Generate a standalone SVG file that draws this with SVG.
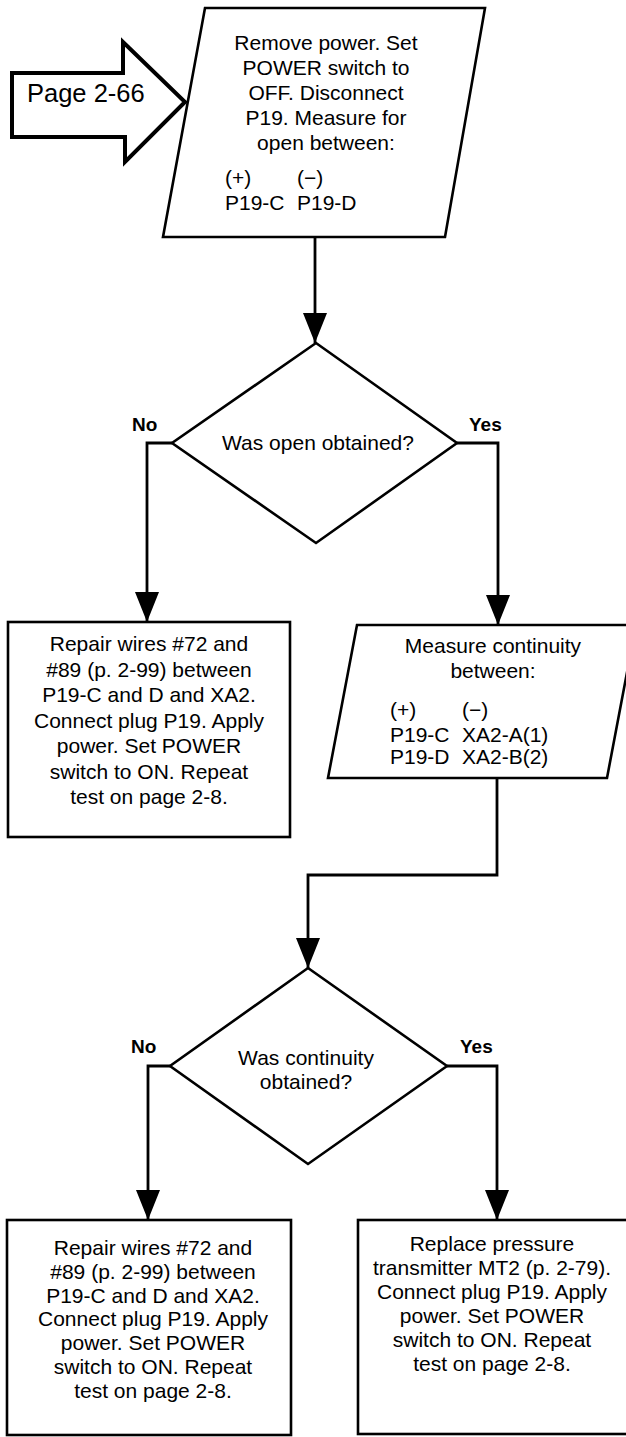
<svg xmlns="http://www.w3.org/2000/svg" width="626" height="1437" viewBox="0 0 626 1437">
<style>
.shape{fill:#fff;stroke:#000;stroke-width:2.6;stroke-linejoin:miter}
.conn{fill:none;stroke:#000;stroke-width:2.8}
.t{font-family:"Liberation Sans",Arial,sans-serif;font-size:21px;fill:#000;text-anchor:middle}
.ts{font-family:"Liberation Sans",Arial,sans-serif;font-size:21px;fill:#000}
.lbl{font-family:"Liberation Sans",Arial,sans-serif;font-size:19px;font-weight:bold;fill:#000}
</style>
<defs>
<marker id="arr" viewBox="0 0 30 24" refX="30" refY="12" markerWidth="30" markerHeight="24" markerUnits="userSpaceOnUse" orient="auto">
<path d="M0,0 L30,12 L0,24 z" fill="#000"/>
</marker>
</defs>
<rect width="626" height="1437" fill="#fff"/>

<g id="connectors">
<path class="conn" d="M315,237 L315,343" marker-end="url(#arr)"/>
<path class="conn" d="M172,443 L147,443 L147,622" marker-end="url(#arr)"/>
<path class="conn" d="M457,443 L498,443 L498,625" marker-end="url(#arr)"/>
<path class="conn" d="M497,778 L497,875 L308,875 L308,968" marker-end="url(#arr)"/>
<path class="conn" d="M170,1066 L148,1066 L148,1220" marker-end="url(#arr)"/>
<path class="conn" d="M447,1066 L497,1066 L497,1220" marker-end="url(#arr)"/>
</g>

<g id="page-ref">
<path d="M12,73 L123,73 L123,42 L185,102 L125,162 L125,137 L12,137 Z" fill="#fff" stroke="#000" stroke-width="4" stroke-linejoin="miter"/>
<text x="27" y="102" font-family="Liberation Sans,Arial,sans-serif" font-size="25.5" fill="#000">Page 2-66</text>
</g>

<g id="start">
<polygon class="shape" points="205,8 485,8 445,237 163,237"/>
<text class="t" x="326" y="50">Remove power. Set</text>
<text class="t" x="326" y="75">POWER switch to</text>
<text class="t" x="326" y="100">OFF. Disconnect</text>
<text class="t" x="326" y="125">P19. Measure for</text>
<text class="t" x="326" y="150">open between:</text>
<text class="ts" x="225" y="185">(+)</text>
<text class="ts" x="297" y="185">(−)</text>
<text class="ts" x="225" y="210">P19-C</text>
<text class="ts" x="297" y="210">P19-D</text>
</g>

<g id="decision1">
<polygon class="shape" points="316,343 457,443 316,543 172,443"/>
<text class="t" x="318" y="450">Was open obtained?</text>
<text class="lbl" x="132" y="431">No</text>
<text class="lbl" x="469" y="431">Yes</text>
</g>

<g id="repair1">
<rect class="shape" x="8" y="622" width="282" height="215"/>
<text class="t" x="149" y="651">Repair wires #72 and</text>
<text class="t" x="149" y="676.5">#89 (p. 2-99) between</text>
<text class="t" x="149" y="702">P19-C and D and XA2.</text>
<text class="t" x="149" y="727.5">Connect plug P19. Apply</text>
<text class="t" x="149" y="753">power. Set POWER</text>
<text class="t" x="149" y="778.5">switch to ON. Repeat</text>
<text class="t" x="149" y="804">test on page 2-8.</text>
</g>

<g id="measure2">
<polygon class="shape" points="357,625 636,625 607,778 328,778"/>
<text class="t" x="493" y="653">Measure continuity</text>
<text class="t" x="493" y="678">between:</text>
<text class="ts" x="390" y="717">(+)</text>
<text class="ts" x="462" y="717">(−)</text>
<text class="ts" x="390" y="742">P19-C</text>
<text class="ts" x="462" y="742">XA2-A(1)</text>
<text class="ts" x="390" y="764">P19-D</text>
<text class="ts" x="462" y="764">XA2-B(2)</text>
</g>

<g id="decision2">
<polygon class="shape" points="308,968 447,1066 308,1164 170,1066"/>
<text class="t" x="306" y="1065">Was continuity</text>
<text class="t" x="306" y="1089">obtained?</text>
<text class="lbl" x="131" y="1053">No</text>
<text class="lbl" x="460" y="1053">Yes</text>
</g>

<g id="repair2">
<rect class="shape" x="7" y="1220" width="284" height="215"/>
<text class="t" x="153" y="1255">Repair wires #72 and</text>
<text class="t" x="153" y="1279">#89 (p. 2-99) between</text>
<text class="t" x="153" y="1303">P19-C and D and XA2.</text>
<text class="t" x="153" y="1326">Connect plug P19. Apply</text>
<text class="t" x="153" y="1350">power. Set POWER</text>
<text class="t" x="153" y="1374">switch to ON. Repeat</text>
<text class="t" x="153" y="1398">test on page 2-8.</text>
</g>

<g id="replace">
<rect class="shape" x="358" y="1220" width="280" height="214"/>
<text class="t" x="492" y="1251">Replace pressure</text>
<text class="t" x="492" y="1275">transmitter MT2 (p. 2-79).</text>
<text class="t" x="492" y="1299">Connect plug P19. Apply</text>
<text class="t" x="492" y="1323">power. Set POWER</text>
<text class="t" x="492" y="1347">switch to ON. Repeat</text>
<text class="t" x="492" y="1371">test on page 2-8.</text>
</g>
</svg>
